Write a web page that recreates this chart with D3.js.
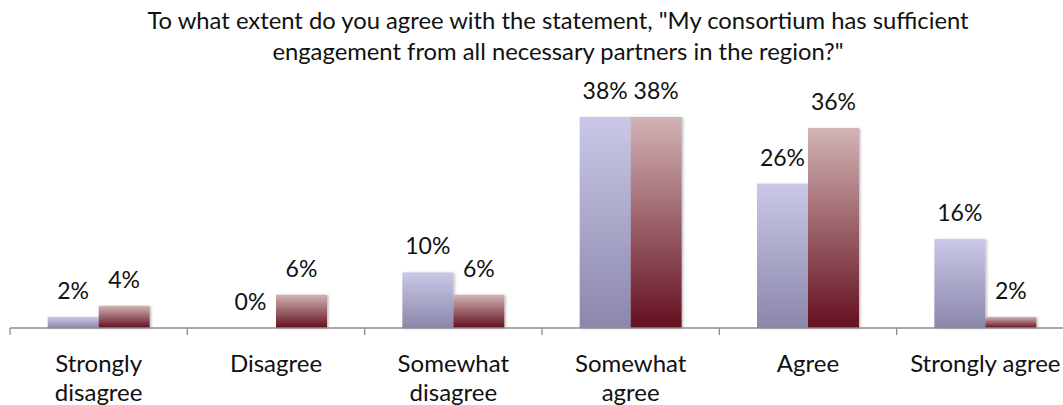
<!DOCTYPE html>
<html>
<head>
<meta charset="utf-8">
<script src="https://cdn.jsdelivr.net/npm/d3@7"></script>
<style>
  body { margin: 0; background: #fff; }
  text { font-family: Lato, "Open Sans", sans-serif; fill: #111; }
</style>
</head>
<body>
<script>
var width = 1063,
    height = 405;

// data
var categories = ["Strongly disagree", "Disagree", "Somewhat disagree", "Somewhat agree", "Agree", "Strongly agree"];
var catLines = [["Strongly", "disagree"], ["Disagree"], ["Somewhat", "disagree"], ["Somewhat", "agree"], ["Agree"], ["Strongly agree"]];
var seriesA = [0.02, 0.00, 0.10, 0.38, 0.26, 0.16];
var seriesB = [0.04, 0.06, 0.06, 0.38, 0.36, 0.02];
var titleLines = ["To what extent do you agree with the statement, \"My consortium has sufficient",
                  "engagement from all necessary partners in the region?\""];

var series = [
  { key: "a", values: seriesA, top: "#cac8e8", bottom: "#8a87aa" },
  { key: "b", values: seriesB, top: "#d2b3b4", bottom: "#641020" }
];

var axisY = 328;

var svg = d3.select("body").append("svg")
    .attr("width", width)
    .attr("height", height);

var defs = svg.append("defs");

var grads = defs.selectAll("linearGradient")
    .data(series)
    .enter().append("linearGradient")
    .attr("id", function(d) { return "grad-" + d.key; })
    .attr("x1", 0).attr("y1", 0).attr("x2", 0).attr("y2", 1);
grads.append("stop").attr("offset", "0%").attr("stop-color", function(d) { return d.top; });
grads.append("stop").attr("offset", "100%").attr("stop-color", function(d) { return d.bottom; });

var shadow = defs.append("filter").attr("id", "shadow")
    .attr("x", "-10%").attr("y", "-10%").attr("width", "130%").attr("height", "120%");
shadow.append("feDropShadow")
    .attr("dx", 1.5).attr("dy", 0.5).attr("stdDeviation", 1.2)
    .attr("flood-color", "#000").attr("flood-opacity", 0.25);

var x0 = d3.scaleBand()
    .domain(categories)
    .range([10, 1074])
    .paddingInner(0.425)
    .paddingOuter(0.2125);

var x1 = d3.scaleBand()
    .domain(series.map(function(d) { return d.key; }))
    .range([0, x0.bandwidth()]);

var y = d3.scaleLinear()
    .domain([0, 0.4])
    .range([axisY, axisY - 0.4 * 555.3]);

var fmt = d3.format(".0%");

// title
svg.append("g").selectAll("text")
    .data(titleLines)
    .enter().append("text")
    .attr("x", 558)
    .attr("y", function(d, i) { return 29 + i * 31; })
    .attr("text-anchor", "middle")
    .style("font-size", "23.8px")
    .text(function(d) { return d; });

// bars
var groups = svg.append("g").selectAll("g")
    .data(series)
    .enter().append("g");

groups.selectAll("rect")
    .data(function(s) { return s.values.map(function(v, i) { return { s: s, v: v, c: categories[i] }; }); })
    .enter().append("rect")
    .filter(function(d) { return d.v > 0; })
    .attr("x", function(d) { return x0(d.c) + x1(d.s.key); })
    .attr("y", function(d) { return y(d.v); })
    .attr("width", x1.bandwidth())
    .attr("height", function(d) { return axisY - y(d.v); })
    .attr("fill", function(d) { return "url(#grad-" + d.s.key + ")"; })
    .attr("filter", "url(#shadow)");

// value labels
groups.selectAll("text")
    .data(function(s) { return s.values.map(function(v, i) { return { s: s, v: v, c: categories[i] }; }); })
    .enter().append("text")
    .attr("x", function(d) { return x0(d.c) + x1(d.s.key) + x1.bandwidth() / 2; })
    .attr("y", function(d) { return y(d.v) - 18; })
    .attr("text-anchor", "middle")
    .style("font-size", "23px")
    .text(function(d) { return fmt(d.v); });

// axis
var axis = svg.append("g");
axis.append("line")
    .attr("x1", 10).attr("x2", width)
    .attr("y1", axisY).attr("y2", axisY)
    .attr("stroke", "#8c8c8c").attr("stroke-width", 1.3);

var tickPos = categories.map(function(c) { return x0(c) - x0.step() * x0.paddingInner() / 2; });
tickPos.push(x0(categories[categories.length - 1]) + x0.bandwidth() + x0.step() * x0.paddingInner() / 2);
axis.selectAll(".tick")
    .data(tickPos)
    .enter().append("line")
    .attr("class", "tick")
    .attr("x1", function(d) { return d; }).attr("x2", function(d) { return d; })
    .attr("y1", axisY).attr("y2", axisY + 7)
    .attr("stroke", "#8c8c8c").attr("stroke-width", 1.3);

// category labels
var cats = axis.selectAll(".cat")
    .data(categories)
    .enter().append("text")
    .attr("class", "cat")
    .attr("text-anchor", "middle")
    .style("font-size", "24px")
    .attr("transform", function(d) { return "translate(" + (x0(d) + x0.bandwidth() / 2) + ",0)"; });

cats.selectAll("tspan")
    .data(function(d, i) { return catLines[i]; })
    .enter().append("tspan")
    .attr("x", 0)
    .attr("y", function(d, i) { return 372 + i * 29; })
    .text(function(d) { return d; });
</script>
</body>
</html>
